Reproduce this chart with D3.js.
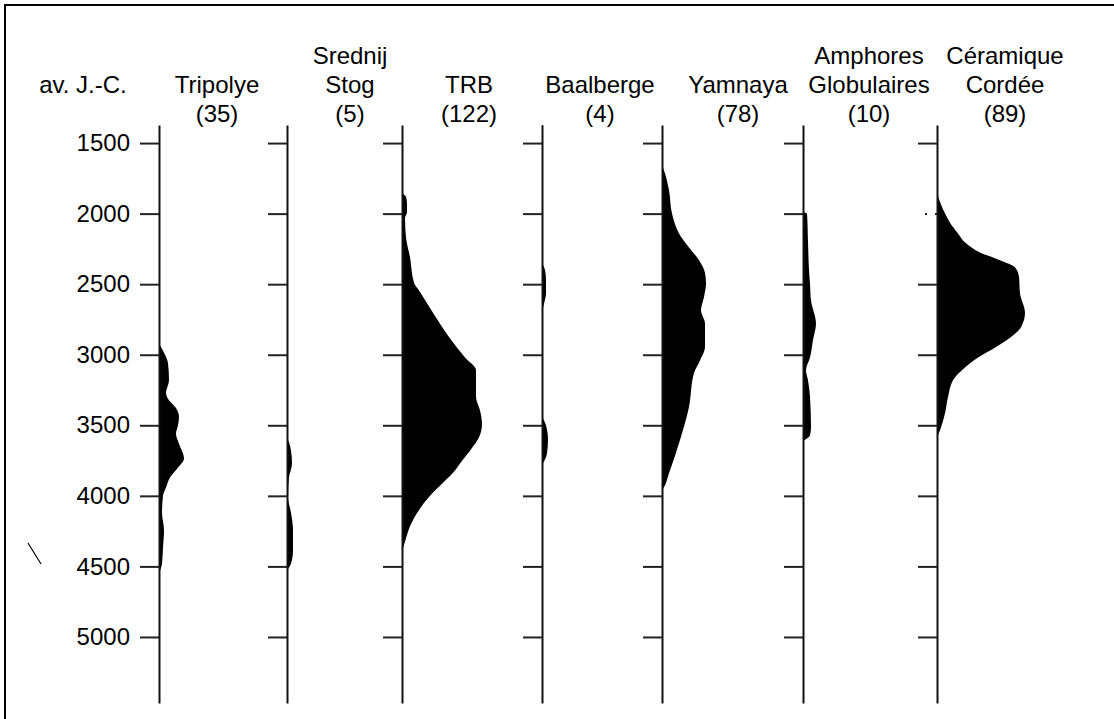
<!DOCTYPE html>
<html>
<head>
<meta charset="utf-8">
<script src="https://cdn.jsdelivr.net/npm/d3@7"></script>
<style>
  body { margin: 0; background: #fff; }
  text { font-family: "Liberation Sans", Arial, Helvetica, sans-serif; font-size: 24px; fill: #000; }
</style>
</head>
<body>
<svg width="1114" height="719"></svg>
<script>
// cultures and number of dates
var cultures = ['Tripolye', 'Srednij Stog', 'TRB', 'Baalberge', 'Yamnaya', 'Amphores Globulaires', 'Céramique Cordée']
var counts = [35, 5, 122, 4, 78, 10, 89]
var yTicks = [1500, 2000, 2500, 3000, 3500, 4000, 4500, 5000]

// summed density profiles: [year BC, relative density]
var tripolye = [[2920,0],[3000,6],[3060,9],[3180,10],[3270,7],[3300,8],[3390,18],[3440,20],[3500,19],[3560,17],[3630,20],[3735,25],[3800,19],[3870,11],[3940,7],[4000,4],[4120,3],[4245,5],[4365,4],[4480,3],[4550,0]]
var srednij = [[2800,0],[2820,1],[3090,1],[3100,0],[3585,0],[3620,2],[3680,4],[3770,5],[3870,2],[4010,1],[4120,4],[4245,6],[4390,6],[4480,4],[4530,0]]
var trb = [[1855,0],[1880,4],[1930,5],[1990,5],[2030,3],[2170,4],[2310,8],[2490,12],[2545,17],[2635,25],[2780,38],[2875,47],[3020,63],[3110,74],[3300,74],[3395,78],[3490,80],[3585,77],[3680,68],[3770,58],[3820,53],[3900,42],[4000,28],[4100,17],[4200,9],[4300,4],[4400,0]]
var baalberge = [[1372,1],[1530,1],[1540,0],[2330,0],[2400,3],[2470,4],[2565,4],[2640,2],[2705,0],[3420,0],[3500,4],[3600,6],[3700,5],[3780,0]]
var yamnaya = [[1655,0],[1715,3],[1835,7],[2000,10],[2140,17],[2240,27],[2330,37],[2420,43],[2495,44],[2590,42],[2685,39],[2780,43],[2945,43],[3040,38],[3130,32],[3370,27],[3605,18],[3840,7],[3950,1],[3960,0]]
var amphores = [[1870,0],[1880,1],[1990,1],[2000,4],[2200,5],[2400,6],[2500,7],[2615,8],[2780,13],[2895,10],[3020,7],[3110,3],[3180,5],[3300,7],[3515,8],[3570,7],[3610,0]]
var ceramique = [[1855,0],[2000,8],[2065,13],[2140,21],[2210,29],[2275,43],[2330,63],[2380,78],[2450,82],[2565,83],[2705,88],[2805,84],[2875,74],[2945,59],[3020,41],[3090,28],[3180,16],[3300,11],[3415,8],[3515,4],[3585,0]]
var profiles = [tripolye, srednij, trb, baalberge, yamnaya, amphores, ceramique]

// layout (not data): axis positions and header centres
var axisX = [159, 287, 402, 542, 662, 803, 937]
var labelX = [217, 350, 469, 600, 738, 869, 1005]

var svg = d3.select('svg')

// frame
svg.append('rect')
    .attr('x', 5).attr('y', 5)
    .attr('width', 1120).attr('height', 730)
    .attr('fill', 'none').attr('stroke', '#000').attr('stroke-width', 2)

var y = d3.scaleLinear()
    .domain([1372, 5468])
    .range([125, 703])

var w = d3.scaleLinear()
    .domain([0, 100])
    .range([0, 100])

var area = d3.area()
    .y(function(d){ return y(d[0]) })
    .x0(0)
    .x1(function(d){ return w(d[1]) })
    .curve(d3.curveMonotoneY)

// header: year unit
svg.append('text')
    .attr('x', 83).attr('y', 93)
    .attr('text-anchor', 'middle')
    .text('av. J.-C.')

cultures.forEach(function(name, i){
    var g = svg.append('g').attr('transform', 'translate(' + axisX[i] + ',0)')

    g.append('path')
        .datum(profiles[i])
        .attr('d', area)
        .attr('fill', '#000')

    var ax = d3.axisLeft(y)
        .tickValues(yTicks)
        .tickSize(19)
        .tickSizeOuter(0)
        .tickPadding(10)
        .tickFormat(i > 0 ? '' : d3.format('d'))
    var axg = g.append('g').call(ax)
    axg.select('.domain').attr('stroke', '#111').attr('stroke-width', 2)
    axg.selectAll('.tick line').attr('stroke', '#222').attr('stroke-width', 2)
    axg.selectAll('.tick text')
        .attr('font-size', 24)
        .attr('font-family', '"Liberation Sans", Arial, sans-serif')
        .attr('fill', '#000')
    // the 2000 tick of the last column is only a faint dotted mark
    if (i == 6) {
        axg.selectAll('.tick line')
            .filter(function(d){ return d == 2000 })
            .attr('stroke-dasharray', '2,8')
    }

    // header lines, bottom aligned
    var words = name.split(' ')
    var lines = words.concat(['(' + counts[i] + ')'])
    var base = 122
    lines.slice().reverse().forEach(function(t, k){
        svg.append('text')
            .attr('x', labelX[i])
            .attr('y', base - k * 29)
            .attr('text-anchor', 'middle')
            .text(t)
    })
})

// stray scan mark in margin
svg.append('line')
    .attr('x1', 28).attr('y1', 543)
    .attr('x2', 41).attr('y2', 564)
    .attr('stroke', '#000').attr('stroke-width', 1.2)
</script>
</body>
</html>
